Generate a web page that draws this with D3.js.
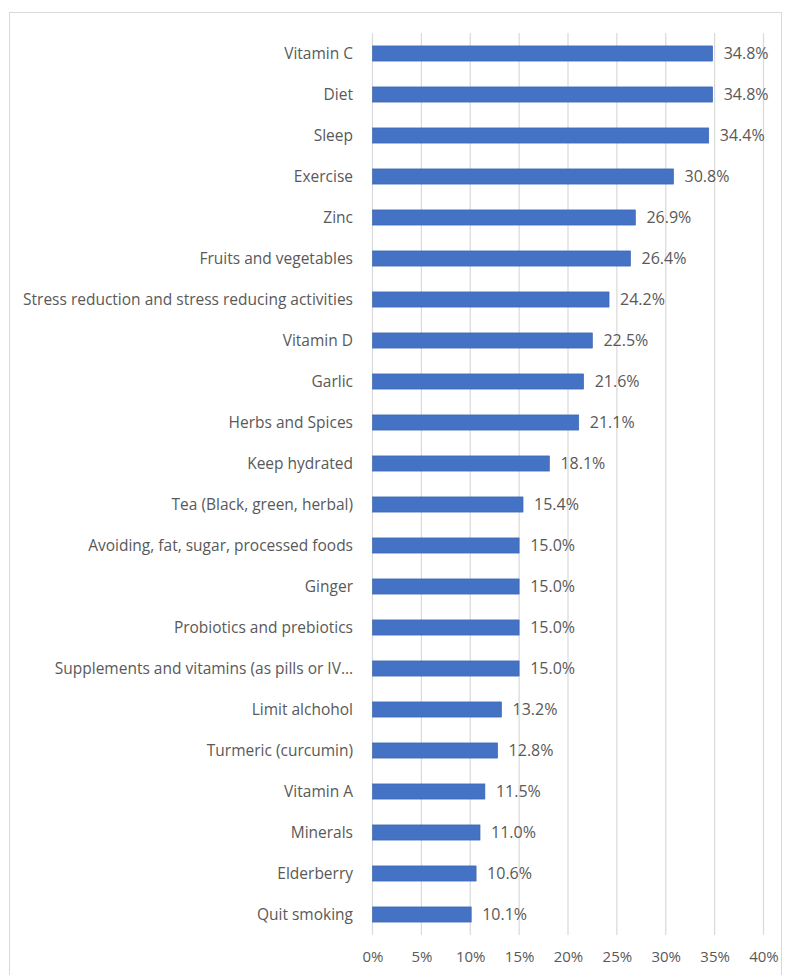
<!DOCTYPE html>
<html>
<head>
<script src="https://d3js.org/d3.v7.min.js"></script>
<style>
  body { margin: 0; background: #fff; }
  #chart { display: block; }
  .lbl, .val, .axis text { font-family: "Open Sans", "Noto Sans", sans-serif; fill: #595959; }
</style>
</head>
<body>
<svg id="chart"></svg>
<script>
// categories, top to bottom
var categories = [
  "Vitamin C", "Diet", "Sleep", "Exercise", "Zinc", "Fruits and vegetables",
  "Stress reduction and stress reducing activities", "Vitamin D", "Garlic",
  "Herbs and Spices", "Keep hydrated", "Tea (Black, green, herbal)",
  "Avoiding, fat, sugar, processed foods", "Ginger", "Probiotics and prebiotics",
  "Supplements and vitamins (as pills or IV\u2026", "Limit alchohol",
  "Turmeric (curcumin)", "Vitamin A", "Minerals", "Elderberry", "Quit smoking"
];
var values = [34.8, 34.8, 34.4, 30.8, 26.9, 26.4, 24.2, 22.5, 21.6, 21.1, 18.1,
  15.4, 15.0, 15.0, 15.0, 15.0, 13.2, 12.8, 11.5, 11.0, 10.6, 10.1];
var ticks = [0, 5, 10, 15, 20, 25, 30, 35, 40];

var W = 787, H = 975;
var svg = d3.select('#chart').attr('width', W).attr('height', H);

// outer frame
svg.append('rect')
  .attr('x', 9.5).attr('y', 12.5)
  .attr('width', 772).attr('height', 980)
  .attr('fill', 'none').attr('stroke', '#d9d9d9');

var x = d3.scaleLinear().domain([0, 40]).range([372.5, 763.5]);
var y = d3.scaleBand().domain(categories).range([33, 935])
  .paddingInner(0.63).paddingOuter(0.315);

// gridlines
svg.append('g').selectAll('line')
  .data(ticks)
  .enter().append('line')
    .attr('x1', d => x(d)).attr('x2', d => x(d))
    .attr('y1', 33).attr('y2', 935)
    .attr('stroke', '#d9d9d9').attr('stroke-width', 1.2);

// x axis labels
var xAxis = d3.axisBottom(x).tickValues(ticks).tickSize(0).tickPadding(0)
  .tickFormat(d => d + '%');
var ax = svg.append('g').attr('class', 'axis').attr('transform', 'translate(0, 957)').call(xAxis);
ax.select('.domain').remove();
ax.selectAll('text').attr('font-size', 15).attr('dy', '0.3em');

// bars
svg.append('g').selectAll('rect')
  .data(values)
  .enter().append('rect')
    .attr('x', x(0))
    .attr('y', (d, i) => y(categories[i]))
    .attr('width', d => x(d) - x(0))
    .attr('height', y.bandwidth())
    .attr('fill', '#4472c4')
    .attr('stroke', '#3a64b0').attr('stroke-width', 0.6);

// category labels
svg.append('g').selectAll('text')
  .data(categories)
  .enter().append('text')
    .attr('class', 'lbl')
    .attr('x', 353)
    .attr('y', d => y(d) + y.bandwidth() / 2)
    .attr('dy', '0.35em')
    .attr('text-anchor', 'end')
    .attr('font-size', 15.5)
    .text(d => d);

// value labels
svg.append('g').selectAll('text')
  .data(values)
  .enter().append('text')
    .attr('class', 'val')
    .attr('x', d => x(d) + 11)
    .attr('y', (d, i) => y(categories[i]) + y.bandwidth() / 2)
    .attr('dy', '0.35em')
    .attr('font-size', 16)
    .text(d => d.toFixed(1) + '%');
</script>
</body>
</html>
